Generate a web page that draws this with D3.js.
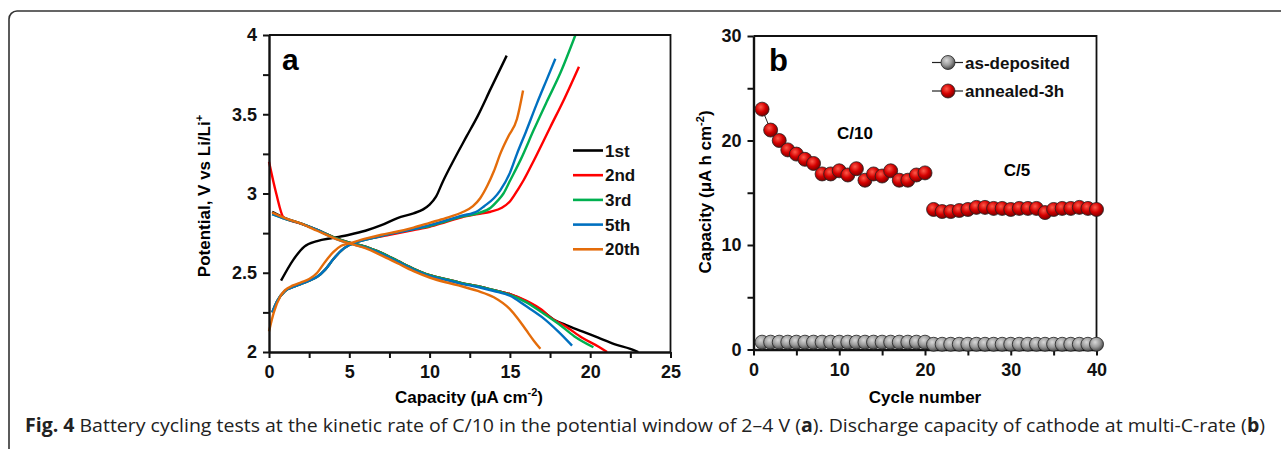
<!DOCTYPE html>
<html>
<head>
<meta charset="utf-8">
<script src="https://cdn.jsdelivr.net/npm/d3@7"></script>
<style>
  body { margin: 0; background: #fff; }
  svg { display: block; }
</style>
</head>
<body>
<div chart></div>
<script>
// ---- panel a: charge / discharge curves [capacity, potential] ----
const cycleNames = ["1st", "2nd", "3rd", "5th", "20th"];
const cycleColors = ["#000000", "#ff0000", "#00b050", "#0070c0", "#e46c0a"];

const charge1st = [[0.75,2.45],[1.5,2.58],[2.2,2.665],[3,2.70],[4,2.72],[5,2.74],[6,2.765],[7,2.80],[8,2.845],[9,2.875],[9.6,2.90],[10,2.93],[10.4,2.98],[10.8,3.07],[11.5,3.21],[12.3,3.36],[13,3.49],[13.8,3.66],[14.8,3.87]];
const discharge1st = [[0.2,2.885],[1,2.845],[2,2.81],[3,2.77],[4,2.725],[5,2.69],[6,2.665],[7,2.625],[8,2.575],[9,2.525],[10,2.485],[11,2.46],[12,2.435],[13,2.415],[14,2.39],[15,2.365],[16,2.32],[17,2.26],[17.8,2.2],[18.5,2.17],[19.5,2.13],[20.5,2.09],[21.5,2.05],[22.5,2.02],[23,2.0]];

const charge2nd = [[0.2,2.25],[0.5,2.32],[1,2.385],[1.5,2.41],[2,2.43],[2.5,2.45],[3,2.475],[3.5,2.52],[4,2.585],[4.5,2.64],[5,2.675],[5.5,2.695],[6.5,2.72],[7.5,2.74],[9,2.77],[10,2.79],[11,2.82],[12,2.85],[13,2.87],[13.8,2.885],[14.5,2.91],[15,2.95],[15.5,3.025],[15.86,3.085],[16.5,3.21],[17.52,3.42],[18.4,3.6],[19.3,3.80]];
const discharge2nd = [[0,3.2],[0.45,3.0],[0.9,2.85],[1.3,2.83],[2,2.81],[3,2.77],[4,2.725],[5,2.69],[6,2.665],[7,2.625],[8,2.575],[9,2.525],[10,2.485],[11,2.46],[12,2.435],[13,2.415],[14,2.39],[15,2.365],[16,2.325],[17,2.265],[17.5,2.22],[18.5,2.16],[19.5,2.09],[20.5,2.035],[21.05,2.0]];

const charge3rd = [[0.2,2.25],[0.5,2.32],[1,2.385],[1.5,2.41],[2,2.43],[2.5,2.45],[3,2.475],[3.5,2.52],[4,2.585],[4.5,2.64],[5,2.675],[5.5,2.695],[6.5,2.72],[7.5,2.745],[9,2.775],[10,2.795],[11,2.825],[12,2.855],[13,2.875],[13.8,2.91],[14.2,2.95],[14.6,3.0],[15.03,3.085],[15.7,3.22],[16.48,3.40],[17.3,3.58],[18.14,3.76],[19.08,4.0]];
const discharge3rd = [[0.2,2.87],[1,2.84],[2,2.81],[3,2.77],[4,2.725],[5,2.69],[6,2.665],[7,2.625],[8,2.575],[9,2.525],[10,2.485],[11,2.46],[12,2.435],[13,2.415],[14,2.39],[15,2.36],[16,2.315],[17,2.25],[18,2.18],[19,2.1],[20.2,2.03]];

const charge5th = [[0.2,2.25],[0.5,2.32],[1,2.385],[1.5,2.41],[2,2.43],[2.5,2.45],[3,2.475],[3.5,2.52],[4,2.585],[4.5,2.64],[5,2.675],[5.5,2.695],[6.5,2.72],[7.5,2.745],[9,2.775],[10,2.80],[11,2.83],[12,2.86],[13,2.89],[13.4,2.92],[14,2.97],[14.4,3.02],[15,3.13],[15.44,3.25],[16,3.39],[16.69,3.57],[17.3,3.72],[17.83,3.85]];
const discharge5th = [[0.2,2.87],[1,2.84],[2,2.81],[3,2.77],[4,2.72],[5,2.685],[6,2.66],[7,2.62],[8,2.57],[9,2.52],[10,2.48],[11,2.455],[12,2.43],[13,2.41],[14,2.385],[15,2.355],[16,2.29],[17,2.22],[18,2.13],[18.87,2.04]];

const charge20th = [[0,2.13],[0.3,2.25],[0.7,2.35],[1,2.39],[1.5,2.42],[2,2.44],[2.5,2.46],[3,2.50],[3.5,2.57],[4,2.63],[4.5,2.67],[5,2.685],[6,2.715],[7,2.74],[8,2.76],[9,2.785],[10,2.815],[11,2.845],[12,2.88],[12.7,2.92],[13.15,2.97],[13.6,3.05],[14,3.14],[14.4,3.25],[14.9,3.36],[15.44,3.47],[15.82,3.65]];
const discharge20th = [[0.2,2.88],[1,2.845],[2,2.81],[3,2.765],[4,2.72],[5,2.685],[6,2.655],[7,2.61],[8,2.56],[9,2.51],[10,2.47],[11,2.44],[12,2.415],[13,2.385],[14,2.345],[15,2.27],[15.5,2.21],[16,2.14],[16.5,2.07],[16.9,2.02]];

const curvesA = [
  [charge1st, discharge1st],
  [charge2nd, discharge2nd],
  [charge3rd, discharge3rd],
  [charge5th, discharge5th],
  [charge20th, discharge20th],
];

const capTicksA = [0, 5, 10, 15, 20, 25];
const potTicksA = [2, 2.5, 3, 3.5, 4];

// ---- panel b: discharge capacity per cycle ----
const cyclesC10 = [1,2,3,4,5,6,7,8,9,10,11,12,13,14,15,16,17,18,19,20];
const cyclesC5 = [21,22,23,24,25,26,27,28,29,30,31,32,33,34,35,36,37,38,39,40];
const annealedC10 = [23.0,21.0,20.0,19.1,18.7,18.2,17.8,16.8,16.8,17.1,16.7,17.3,16.2,16.8,16.6,17.1,16.2,16.2,16.7,16.9];
const annealedC5 = [13.4,13.2,13.2,13.3,13.4,13.6,13.6,13.5,13.5,13.4,13.5,13.5,13.5,13.1,13.4,13.5,13.5,13.6,13.5,13.4];
const depositedC10 = [0.7,0.7,0.7,0.7,0.7,0.7,0.7,0.7,0.7,0.7,0.7,0.7,0.7,0.7,0.7,0.7,0.7,0.7,0.7,0.7];
const depositedC5 = [0.5,0.5,0.5,0.5,0.5,0.5,0.5,0.5,0.5,0.5,0.5,0.5,0.5,0.5,0.5,0.5,0.5,0.5,0.5,0.5];
const seriesNames = ["as-deposited", "annealed-3h"];
const cycleTicksB = [0, 10, 20, 30, 40];
const capTicksB = [0, 10, 20, 30];

const W = 1281, H = 449;
const panelA = { left: 269, right: 670.5, top: 35, bottom: 352 };
const panelB = { left: 753.5, right: 1096.5, top: 36, bottom: 349.5 };
const FONT = "Liberation Sans, Arial, sans-serif";

const svg = d3.select("[chart]").append("svg")
  .attr("width", W).attr("height", H)
  .attr("font-family", FONT);

// gradients for the shiny markers
const defs = svg.append("defs");
function ballGradient(id, light, mid, dark) {
  const g = defs.append("radialGradient").attr("id", id)
    .attr("cx", "40%").attr("cy", "35%").attr("r", "65%");
  g.append("stop").attr("offset", "0%").attr("stop-color", light);
  g.append("stop").attr("offset", "55%").attr("stop-color", mid);
  g.append("stop").attr("offset", "100%").attr("stop-color", dark);
}
ballGradient("ballRed", "#ff5a4a", "#d40000", "#7a0000");
ballGradient("ballGray", "#d8d8d8", "#9a9a9a", "#4a4a4a");

// figure frame
svg.append("rect")
  .attr("x", 9).attr("y", 11).attr("width", 1300).attr("height", 480)
  .attr("rx", 8).attr("fill", "none").attr("stroke", "#333").attr("stroke-width", 1.6);

// ===================== panel a =====================
const xA = d3.scaleLinear().domain([0, 25]).range([panelA.left, panelA.right]);
const yA = d3.scaleLinear().domain([2, 4]).range([panelA.bottom, panelA.top]);

const gA = svg.append("g");

const lineA = d3.line()
  .x((d) => xA(d[0]))
  .y((d) => yA(d[1]))
  .curve(d3.curveMonotoneX);

curvesA.forEach(function (pair, i) {
  pair.forEach(function (pts) {
    gA.append("path")
      .attr("d", lineA(pts))
      .attr("fill", "none")
      .attr("stroke", cycleColors[i])
      .attr("stroke-width", 2.4)
      .attr("stroke-linejoin", "round");
  });
});

// frame top / right
gA.append("path")
  .attr("d", `M${panelA.left},${panelA.top}H${panelA.right}V${panelA.bottom}`)
  .attr("fill", "none").attr("stroke", "#111").attr("stroke-width", 1.8);

const axisXA = d3.axisBottom(xA).tickValues(d3.range(0, 25.1, 2.5)).tickSize(6)
  .tickFormat((d) => (capTicksA.includes(d) ? d : ""));
const axisYA = d3.axisLeft(yA).tickValues(d3.range(2, 4.01, 0.25)).tickSize(6)
  .tickFormat((d) => (potTicksA.includes(+d.toFixed(2)) ? d : ""));

function styleAxis(g) {
  g.select(".domain").attr("stroke", "#111").attr("stroke-width", 2.4);
  g.selectAll(".tick line").attr("stroke", "#111").attr("stroke-width", 2);
  g.selectAll(".tick text")
    .attr("font-family", FONT)
    .attr("font-size", 18).attr("font-weight", "bold").attr("fill", "#111");
}

gA.append("g").attr("transform", `translate(0,${panelA.bottom})`)
  .call(axisXA.tickSizeOuter(0)).call(styleAxis)
  .call((g) => g.selectAll(".tick text").attr("dy", "1.0em").attr("y", 8));
gA.append("g").attr("transform", `translate(${panelA.left},0)`)
  .call(axisYA.tickSizeOuter(0)).call(styleAxis)
  .call((g) => g.selectAll(".tick text").attr("x", -12));

gA.append("text").attr("x", 282).attr("y", 70)
  .attr("font-size", 30).attr("font-weight", "bold").text("a");

// legend a
const legA = gA.selectAll(".legA").data(cycleNames).enter().append("g")
  .attr("transform", (d, i) => `translate(573,${150.5 + i * 24.7})`);
legA.append("line").attr("x1", 0).attr("x2", 30)
  .attr("stroke", (d, i) => cycleColors[i]).attr("stroke-width", 2.6);
legA.append("text").attr("x", 32).attr("y", 6)
  .attr("font-size", 17).attr("font-weight", "bold").attr("fill", "#111")
  .text((d) => d);

// axis titles a
const titleXA = gA.append("text").attr("x", 469).attr("y", 403)
  .attr("text-anchor", "middle").attr("font-size", 17).attr("font-weight", "bold");
titleXA.append("tspan").text("Capacity (μA cm");
titleXA.append("tspan").attr("font-size", 11).attr("dy", -7).text("-2");
titleXA.append("tspan").attr("dy", 7).text(")");

const titleYA = gA.append("text")
  .attr("transform", "translate(210,196) rotate(-90)")
  .attr("text-anchor", "middle").attr("font-size", 17).attr("font-weight", "bold");
titleYA.append("tspan").text("Potential, V vs Li/Li");
titleYA.append("tspan").attr("font-size", 11).attr("dy", -7).text("+");

// ===================== panel b =====================
const xB = d3.scaleLinear().domain([0, 40]).range([panelB.left, panelB.right]);
const yB = d3.scaleLinear().domain([0, 30]).range([panelB.bottom, panelB.top]);

const gB = svg.append("g");

gB.append("path")
  .attr("d", `M${panelB.left},${panelB.top}H${panelB.right}V${panelB.bottom}`)
  .attr("fill", "none").attr("stroke", "#111").attr("stroke-width", 1.8);

const axisXB = d3.axisBottom(xB).tickValues(d3.range(0, 40.1, 5)).tickSize(6)
  .tickFormat((d) => (cycleTicksB.includes(d) ? d : ""));
const axisYB = d3.axisLeft(yB).tickValues(d3.range(0, 30.1, 5)).tickSize(6)
  .tickFormat((d) => (capTicksB.includes(d) ? d : ""));

gB.append("g").attr("transform", `translate(0,${panelB.bottom})`)
  .call(axisXB.tickSizeOuter(0)).call(styleAxis)
  .call((g) => g.selectAll(".tick text").attr("dy", "1.0em").attr("y", 8));
gB.append("g").attr("transform", `translate(${panelB.left},0)`)
  .call(axisYB.tickSizeOuter(0)).call(styleAxis)
  .call((g) => g.selectAll(".tick text").attr("x", -12));

const segments = [
  { cycles: cyclesC10, values: depositedC10, fill: "url(#ballGray)" },
  { cycles: cyclesC5, values: depositedC5, fill: "url(#ballGray)" },
  { cycles: cyclesC10, values: annealedC10, fill: "url(#ballRed)" },
  { cycles: cyclesC5, values: annealedC5, fill: "url(#ballRed)" },
];

const lineB = d3.line().x((d) => xB(d[0])).y((d) => yB(d[1]));

segments.forEach(function (s) {
  const pts = s.cycles.map((c, i) => [c, s.values[i]]);
  gB.append("path").attr("d", lineB(pts))
    .attr("fill", "none").attr("stroke", "#222").attr("stroke-width", 1);
  gB.selectAll(null).data(pts).enter().append("circle")
    .attr("cx", (d) => xB(d[0]))
    .attr("cy", (d) => yB(d[1]))
    .attr("r", 7)
    .attr("fill", s.fill)
    .attr("stroke", "#222").attr("stroke-width", 0.8);
});

gB.append("text").attr("x", 769).attr("y", 71)
  .attr("font-size", 31).attr("font-weight", "bold").text("b");

gB.append("text").attr("x", 855).attr("y", 139).attr("text-anchor", "middle")
  .attr("font-size", 17).attr("font-weight", "bold").text("C/10");
gB.append("text").attr("x", 1017).attr("y", 176).attr("text-anchor", "middle")
  .attr("font-size", 17).attr("font-weight", "bold").text("C/5");

// legend b
const legB = gB.selectAll(".legB").data(seriesNames).enter().append("g")
  .attr("transform", (d, i) => `translate(932,${62.5 + i * 28.5})`);
legB.append("line").attr("x1", 0).attr("x2", 31)
  .attr("stroke", "#222").attr("stroke-width", 1.2);
legB.append("circle").attr("cx", 16).attr("r", 7)
  .attr("fill", (d, i) => (i === 0 ? "url(#ballGray)" : "url(#ballRed)"))
  .attr("stroke", "#222").attr("stroke-width", 0.8);
legB.append("text").attr("x", 33).attr("y", 6)
  .attr("font-size", 17).attr("font-weight", "bold").attr("fill", "#111")
  .text((d) => d);

// axis titles b
gB.append("text").attr("x", 925).attr("y", 403).attr("text-anchor", "middle")
  .attr("font-size", 17).attr("font-weight", "bold").text("Cycle number");

const titleYB = gB.append("text")
  .attr("transform", "translate(711,192) rotate(-90)")
  .attr("text-anchor", "middle").attr("font-size", 17).attr("font-weight", "bold");
titleYB.append("tspan").text("Capacity (μA h cm");
titleYB.append("tspan").attr("font-size", 11).attr("dy", -7).text("-2");
titleYB.append("tspan").attr("dy", 7).text(")");

// ===================== caption =====================
const caption = svg.append("text").attr("x", 25).attr("y", 432)
  .attr("font-family", "Open Sans, sans-serif").attr("font-size", 19)
  .attr("textLength", 1240).attr("lengthAdjust", "spacingAndGlyphs")
  .attr("fill", "#222");
caption.append("tspan").attr("font-weight", "bold").text("Fig. 4");
caption.append("tspan").text(" Battery cycling tests at the kinetic rate of C/10 in the potential window of 2–4 V (");
caption.append("tspan").attr("font-weight", "bold").text("a");
caption.append("tspan").text("). Discharge capacity of cathode at multi-C-rate (");
caption.append("tspan").attr("font-weight", "bold").text("b");
caption.append("tspan").text(")");
</script>
</body>
</html>
